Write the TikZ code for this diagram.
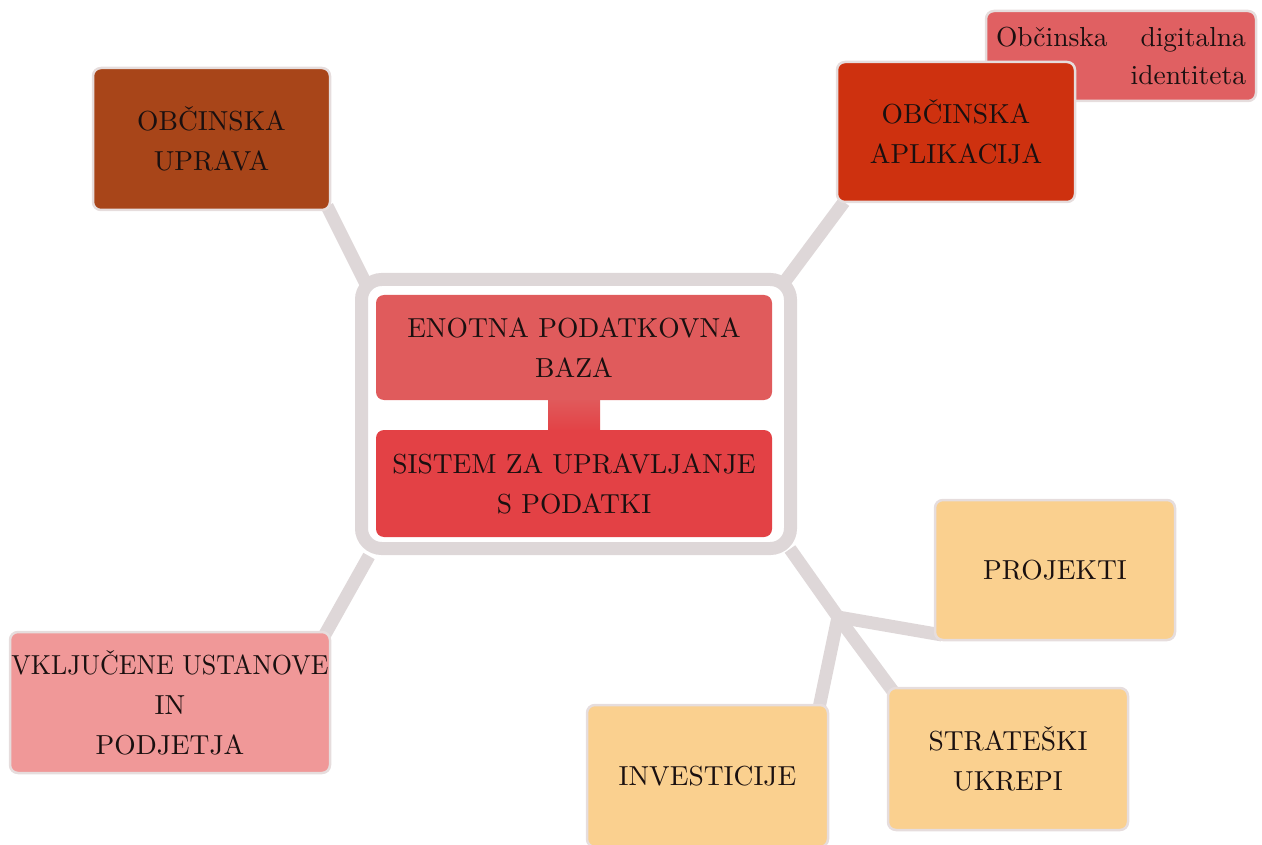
\documentclass[tikz,border=0pt]{standalone}
\usepackage{graphicx}
\usepackage{fontspec}
\setmainfont{lmroman10-regular}[Extension=.otf]
\definecolor{uprava}{HTML}{A84519}
\definecolor{aplik}{HTML}{CE310F}
\definecolor{digi}{HTML}{E06062}
\definecolor{enotna}{HTML}{E05B5C}
\definecolor{sistem}{HTML}{E34145}
\definecolor{vklj}{HTML}{F09898}
\definecolor{yel}{HTML}{FAD08F}
\definecolor{conn}{HTML}{DED7D8}
\definecolor{rim}{HTML}{E6DDDD}
\definecolor{ink}{HTML}{1A1010}
\tikzset{
  bx/.style={draw=rim, line width=2.5pt, rounded corners=8pt, inner sep=0pt,
    align=center, text=ink, font=\fontsize{27.5}{40}\selectfont},
  cn/.style={draw=conn, line width=13pt, line cap=butt},
}
\begin{document}
\begin{tikzpicture}[x=1pt,y=-1pt]
\useasboundingbox (0,0) rectangle (1262,845);
% connector end points
\coordinate (c1a) at (327,206);
\coordinate (c1b) at (366,284);
\coordinate (c2a) at (844,202);
\coordinate (c2b) at (786,280);
\coordinate (c3a) at (369,556);
\coordinate (c3b) at (323,638);
\coordinate (c4a) at (790,549);
\coordinate (J) at (838,617);
\coordinate (jp) at (942,635);
\coordinate (ji) at (819,708);
\coordinate (js) at (895,694);
% connectors
\draw[cn] (c1a) -- (c1b);
\draw[cn] (c2a) -- (c2b);
\draw[cn] (c3a) -- (c3b);
\draw[cn, line join=round] (c4a) -- (J);
\draw[cn] (J) -- (jp);
\draw[cn] (J) -- (ji);
\draw[cn] (J) -- (js);
% central frame
\node[draw=conn, line width=13pt, rounded corners=20pt, fill=white,
  minimum width=429pt, minimum height=269pt, inner sep=0pt] (frame) at (576,414) {};
\shade[top color=enotna, bottom color=sistem] (548,398) rectangle (600,432);
\node[bx, draw=none, fill=enotna, minimum width=396pt, minimum height=105pt] (eno) at (574,347.5)
  {ENOTNA PODATKOVNA\\BAZA};
\node[bx, draw=none, fill=sistem, minimum width=396pt, minimum height=107pt] (sis) at (574,483.5)
  {SISTEM ZA UPRAVLJANJE\\S PODATKI};
% outer boxes
\node[bx, fill=uprava, minimum width=237pt, minimum height=142pt] (upr) at (211.5,139)
  {OBČINSKA\\UPRAVA};
\node[bx, fill=digi, minimum width=270pt, minimum height=90pt, text width=250pt, align=right,
  font=\fontsize{27.5}{38}\selectfont] (dig) at (1121,56)
  {Občinska\hfill digitalna\\identiteta};
\node[bx, fill=aplik, minimum width=238pt, minimum height=140pt] (apl) at (956,132)
  {OBČINSKA\\APLIKACIJA};
\node[bx, fill=vklj, minimum width=320pt, minimum height=141pt] (vkl) at (170,702.5)
  {\scalebox{0.945}[1]{VKLJUČENE USTANOVE}\\IN\\PODJETJA};
\node[bx, fill=yel, minimum width=240pt, minimum height=140pt] (pro) at (1055,570)
  {PROJEKTI};
\node[bx, fill=yel, minimum width=241pt, minimum height=142pt] (inv) at (707.5,776)
  {INVESTICIJE};
\node[bx, fill=yel, minimum width=240pt, minimum height=142pt] (str) at (1008,759)
  {STRATEŠKI\\UKREPI};
\end{tikzpicture}
\end{document}
